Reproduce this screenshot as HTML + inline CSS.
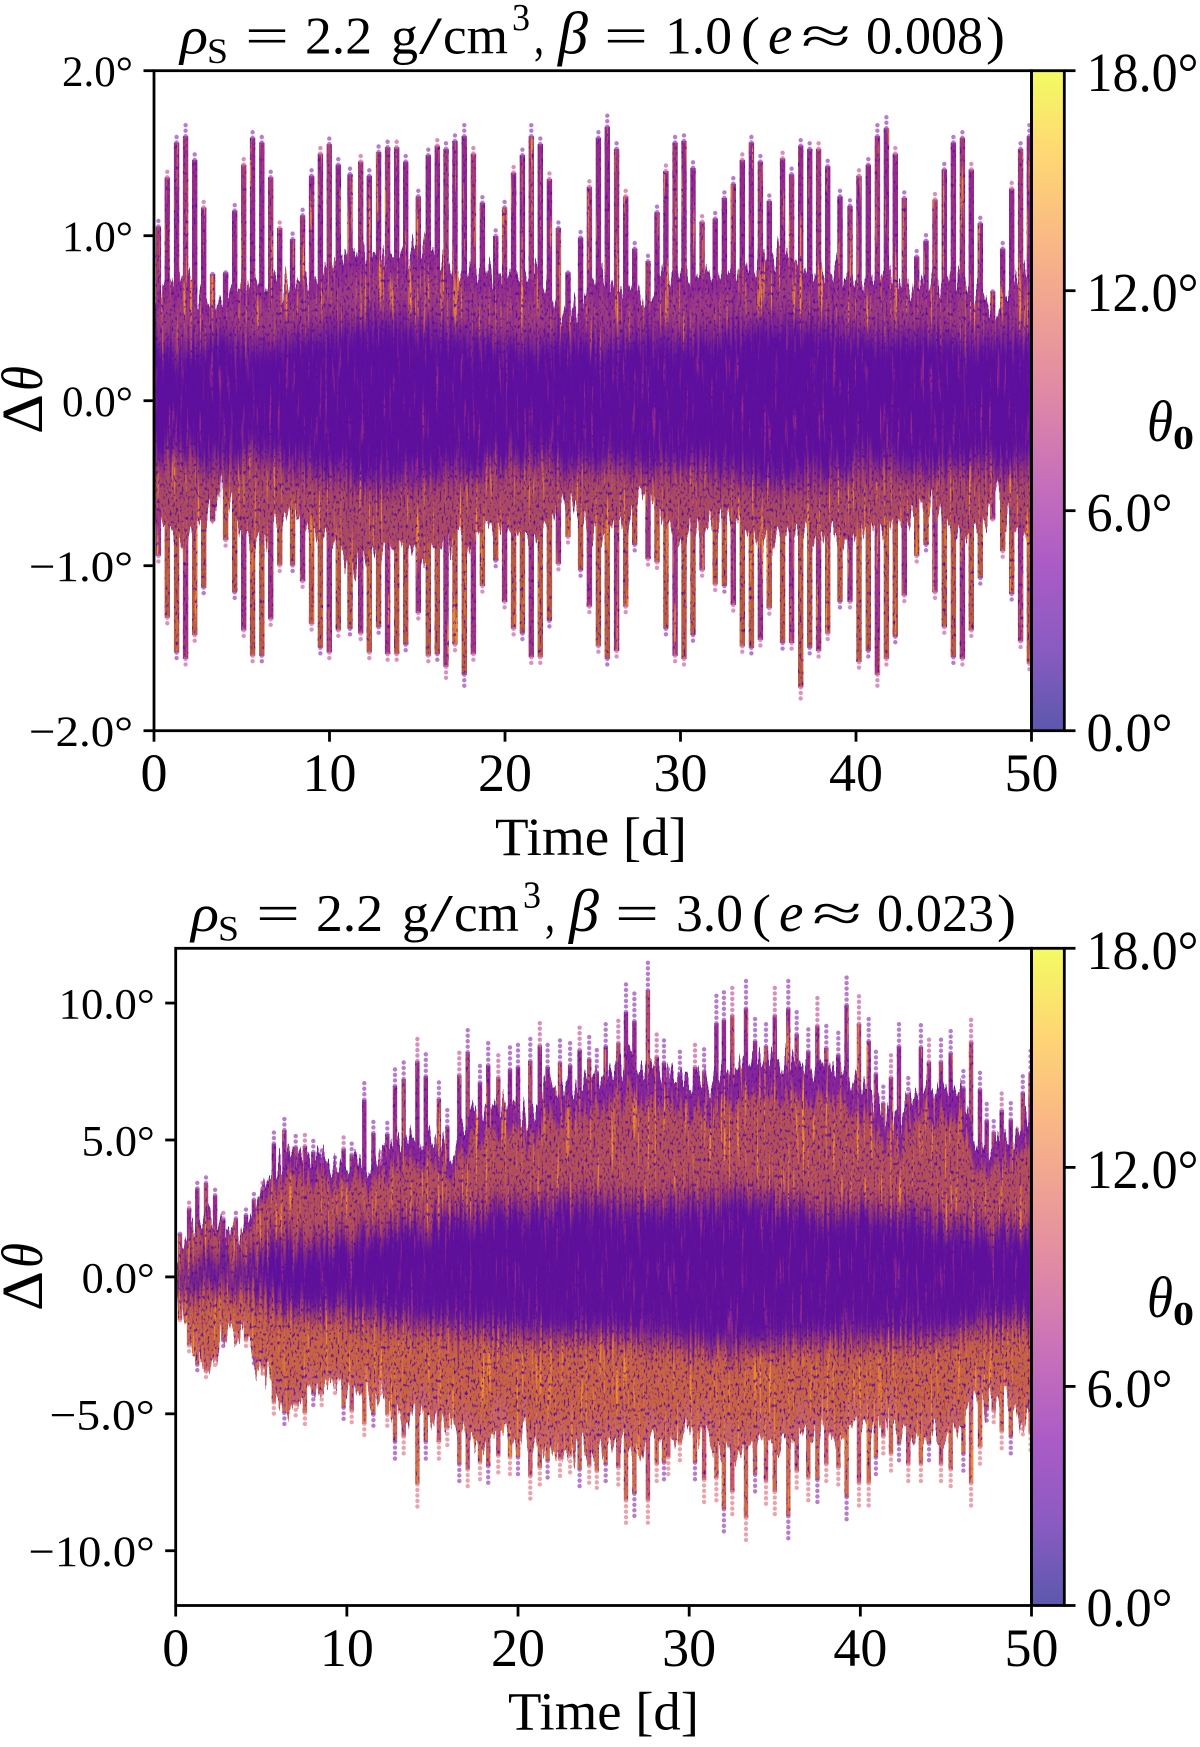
<!DOCTYPE html>
<html lang="en">
<head>
<meta charset="utf-8">
<title>Delta theta versus time scatter panels</title>
<style>
html,body{margin:0;padding:0;background:#fff;}
svg{display:block;}
text{font-family:"Liberation Serif","DejaVu Serif",serif;fill:#000;}
.it{font-style:italic;}
</style>
</head>
<body>
<svg id="figure" xmlns="http://www.w3.org/2000/svg" width="1200" height="1747" viewBox="0 0 1200 1747">
<defs>
<linearGradient id="plasmaAlpha" x1="0" y1="1" x2="0" y2="0">
<stop offset="0" stop-color="#5c58ad"/>
<stop offset=".125" stop-color="#8a5bc2"/>
<stop offset=".25" stop-color="#ab5bc6"/>
<stop offset=".375" stop-color="#c66fbb"/>
<stop offset=".5" stop-color="#de87a7"/>
<stop offset=".625" stop-color="#ee9f95"/>
<stop offset=".75" stop-color="#faba83"/>
<stop offset=".875" stop-color="#fed873"/>
<stop offset="1" stop-color="#f3fb62"/>
</linearGradient>
<filter id="soft6" x="-5%" y="-40%" width="110%" height="180%"><feGaussianBlur stdDeviation="1 11"/></filter>
<filter id="soft3" x="-5%" y="-30%" width="110%" height="160%"><feGaussianBlur stdDeviation="1 4"/></filter>
<filter id="roughBody" filterUnits="userSpaceOnUse" x="140" y="60" width="900" height="1560" color-interpolation-filters="sRGB">
<feTurbulence type="fractalNoise" baseFrequency="0.26 0.004" numOctaves="2" seed="7" result="n"/>
<feColorMatrix in="n" type="matrix" values="1 0 0 0 0  0 1 0 0 0  0 0 0 0 .5  0 0 0 0 1" result="d"/>
<feDisplacementMap in="SourceGraphic" in2="d" scale="70" xChannelSelector="B" yChannelSelector="G"/>
</filter>
<filter id="roughCore" filterUnits="userSpaceOnUse" x="140" y="60" width="900" height="1560" color-interpolation-filters="sRGB">
<feTurbulence type="fractalNoise" baseFrequency="0.4 0.006" numOctaves="2" seed="11" result="n"/>
<feColorMatrix in="n" type="matrix" values="1 0 0 0 0  0 1 0 0 0  0 0 0 0 .5  0 0 0 0 1" result="d"/>
<feDisplacementMap in="SourceGraphic" in2="d" scale="70" xChannelSelector="B" yChannelSelector="G"/>
</filter>
<filter id="streaks" filterUnits="userSpaceOnUse" x="140" y="60" width="900" height="1560" color-interpolation-filters="sRGB">
<feTurbulence type="fractalNoise" baseFrequency="0.42 0.012" numOctaves="2" seed="9" result="n"/>
<feColorMatrix in="n" type="matrix" values="0 0 0 0 .96  0 0 0 0 .56  0 0 0 0 .16  6 0 0 0 -3.6" result="o"/>
<feComposite in="o" in2="SourceAlpha" operator="in" result="om"/>
<feMerge><feMergeNode in="SourceGraphic"/><feMergeNode in="om"/></feMerge>
</filter>
<filter id="coreStreaks" filterUnits="userSpaceOnUse" x="140" y="60" width="900" height="1560" color-interpolation-filters="sRGB">
<feTurbulence type="fractalNoise" baseFrequency="0.36 0.02" numOctaves="2" seed="21" result="n"/>
<feColorMatrix in="n" type="matrix" values="0 0 0 0 .62  0 0 0 0 .18  0 0 0 0 .55  5 0 0 0 -3.0" result="o"/>
<feComposite in="o" in2="SourceAlpha" operator="in" result="om"/>
<feMerge><feMergeNode in="SourceGraphic"/><feMergeNode in="om"/></feMerge>
</filter>
<filter id="grain" filterUnits="userSpaceOnUse" x="140" y="60" width="900" height="1560" color-interpolation-filters="sRGB">
<feTurbulence type="fractalNoise" baseFrequency="0.5 0.24" numOctaves="2" seed="4" result="n"/>
<feColorMatrix in="n" type="matrix" values="0 0 0 0 .36  0 0 0 0 .05  0 0 0 0 .62  5 0 0 0 -2.75" result="p"/>
<feComposite in="p" in2="SourceAlpha" operator="in" result="pm"/>
<feMerge><feMergeNode in="SourceGraphic"/><feMergeNode in="pm"/></feMerge>
</filter>
</defs>

<g font-size="53">
<text class="it" x="180" y="53.5" textLength="28" lengthAdjust="spacingAndGlyphs">ρ</text>
<text x="207" y="63" font-size="36" textLength="21" lengthAdjust="spacingAndGlyphs">S</text>
<text x="245" y="53.5" textLength="44" lengthAdjust="spacingAndGlyphs">=</text>
<text x="305" y="53.5" textLength="67" lengthAdjust="spacingAndGlyphs">2.2</text>
<text x="391" y="53.5" textLength="27" lengthAdjust="spacingAndGlyphs">g</text>
<text x="419" y="53.5" textLength="23" lengthAdjust="spacingAndGlyphs">/</text>
<text x="443" y="53.5" textLength="65" lengthAdjust="spacingAndGlyphs">cm</text>
<text x="512" y="30" font-size="38" textLength="18" lengthAdjust="spacingAndGlyphs">3</text>
<text x="534" y="53.5" textLength="10" lengthAdjust="spacingAndGlyphs">,</text>
<text class="it" x="558" y="53.5" font-size="60">β</text>
<text x="604" y="53.5" textLength="44" lengthAdjust="spacingAndGlyphs">=</text>
<text x="665" y="53.5" textLength="67" lengthAdjust="spacingAndGlyphs">1.0</text>
<text x="741" y="53.5" textLength="19" lengthAdjust="spacingAndGlyphs">(</text>
<text class="it" x="768" y="53.5" font-size="55">e</text>
<text x="801" y="53.5" textLength="50" lengthAdjust="spacingAndGlyphs">≈</text>
<text x="866" y="53.5" textLength="117" lengthAdjust="spacingAndGlyphs">0.008</text>
<text x="986" y="53.5" textLength="19" lengthAdjust="spacingAndGlyphs">)</text>
</g>

<g font-size="53" transform="translate(11,877.6)">
<text class="it" x="180" y="53.5" textLength="28" lengthAdjust="spacingAndGlyphs">ρ</text>
<text x="207" y="63" font-size="36" textLength="21" lengthAdjust="spacingAndGlyphs">S</text>
<text x="245" y="53.5" textLength="44" lengthAdjust="spacingAndGlyphs">=</text>
<text x="305" y="53.5" textLength="67" lengthAdjust="spacingAndGlyphs">2.2</text>
<text x="391" y="53.5" textLength="27" lengthAdjust="spacingAndGlyphs">g</text>
<text x="419" y="53.5" textLength="23" lengthAdjust="spacingAndGlyphs">/</text>
<text x="443" y="53.5" textLength="65" lengthAdjust="spacingAndGlyphs">cm</text>
<text x="512" y="30" font-size="38" textLength="18" lengthAdjust="spacingAndGlyphs">3</text>
<text x="534" y="53.5" textLength="10" lengthAdjust="spacingAndGlyphs">,</text>
<text class="it" x="558" y="53.5" font-size="60">β</text>
<text x="604" y="53.5" textLength="44" lengthAdjust="spacingAndGlyphs">=</text>
<text x="665" y="53.5" textLength="67" lengthAdjust="spacingAndGlyphs">3.0</text>
<text x="741" y="53.5" textLength="19" lengthAdjust="spacingAndGlyphs">(</text>
<text class="it" x="768" y="53.5" font-size="55">e</text>
<text x="801" y="53.5" textLength="50" lengthAdjust="spacingAndGlyphs">≈</text>
<text x="866" y="53.5" textLength="117" lengthAdjust="spacingAndGlyphs">0.023</text>
<text x="986" y="53.5" textLength="19" lengthAdjust="spacingAndGlyphs">)</text>
</g>

<g transform="translate(42,434) rotate(-90)" font-size="58">
<text x="0" y="0" textLength="40" lengthAdjust="spacingAndGlyphs">Δ</text>
<text class="it" x="43" y="0" textLength="25" lengthAdjust="spacingAndGlyphs">θ</text>
</g>
<g transform="translate(42,1311) rotate(-90)" font-size="58">
<text x="0" y="0" textLength="40" lengthAdjust="spacingAndGlyphs">Δ</text>
<text class="it" x="43" y="0" textLength="25" lengthAdjust="spacingAndGlyphs">θ</text>
</g>

<text x="495" y="855" font-size="54" textLength="192" lengthAdjust="spacingAndGlyphs">Time [d]</text>
<text x="508" y="1729.5" font-size="54" textLength="191" lengthAdjust="spacingAndGlyphs">Time [d]</text>

<g>
<text class="it" x="1147" y="441" font-size="58" textLength="26" lengthAdjust="spacingAndGlyphs">θ</text>
<text x="1173" y="449" font-size="34" font-weight="bold" textLength="21" lengthAdjust="spacingAndGlyphs">0</text>
</g>
<g transform="translate(0,876)">
<text class="it" x="1147" y="441" font-size="58" textLength="26" lengthAdjust="spacingAndGlyphs">θ</text>
<text x="1173" y="449" font-size="34" font-weight="bold" textLength="21" lengthAdjust="spacingAndGlyphs">0</text>
</g>
</svg>

<script>
// ---------- Shared axis data ----------
const xTickValues = [0, 10, 20, 30, 40, 50];
const bodyTimes = [0,1,2,3,4,5,6,7,8,9,10,11,12,13,14,15,16,17,18,19,20,21,22,23,24,25,26,27,28,29,30,31,32,33,34,35,36,37,38,39,40,41,42,43,44,45,46,47,48,49,50];
const colorbarTickValues = [0, 6, 12, 18];
const colorbarTickLabels = ['0.0°', '6.0°', '12.0°', '18.0°'];

// ---------- Top panel data (degrees, time in days) ----------
const topYTickValues = [-2, -1, 0, 1, 2];
const topYTickLabels = ['−2.0°', '−1.0°', '0.0°', '1.0°', '2.0°'];
const topSpikeTimes = [0.25,0.76,1.29,1.80,2.32,2.83,3.34,4.08,4.60,5.11,5.62,6.14,6.65,7.16,7.90,8.47,8.98,9.48,9.99,10.50,11.17,11.78,12.27,12.80,13.31,13.83,14.34,15.06,15.63,16.14,16.64,17.15,17.68,18.20,18.71,19.47,19.98,20.49,20.99,21.50,22.01,22.53,23.04,23.59,24.31,24.81,25.32,25.83,26.36,26.88,27.39,28.15,28.66,29.17,29.69,30.20,30.71,31.23,31.98,32.50,33.01,33.52,34.04,34.55,35.06,35.82,36.33,36.85,37.36,37.87,38.39,39.09,39.66,40.17,40.70,41.22,41.73,42.24,42.75,43.46,43.99,44.50,45.03,45.55,46.06,46.57,47.08,47.79,48.36,48.87,49.38,49.88];
const topSpikeUpper = [1.10,1.41,1.63,1.67,1.52,1.22,.80,.81,1.20,1.49,1.66,1.63,1.41,1.09,1.02,1.17,1.42,1.56,1.62,1.49,1.43,1.51,1.42,1.57,1.60,1.60,1.51,1.29,1.55,1.61,1.59,1.64,1.67,1.56,1.25,1.04,1.22,1.44,1.55,1.67,1.62,1.40,1.09,.81,1.03,1.35,1.66,1.73,1.59,1.29,.96,.88,1.19,1.45,1.63,1.64,1.47,1.13,1.15,1.28,1.37,1.52,1.63,1.51,1.26,1.53,1.43,1.61,1.59,1.59,1.48,1.29,1.23,1.42,1.49,1.67,1.72,1.56,1.28,.91,1.01,1.27,1.46,1.63,1.66,1.46,1.12,.69,.96,1.34,1.59,1.67];
const topSpikeLower = [.98,1.37,1.59,1.63,1.48,1.18,.76,.88,1.21,1.45,1.61,1.61,1.38,1.04,1.04,1.14,1.41,1.56,1.59,1.45,1.44,1.47,1.59,1.43,1.60,1.60,1.54,1.34,1.61,1.60,1.68,1.54,1.73,1.60,1.17,1.01,1.27,1.44,1.47,1.62,1.62,1.39,1.03,.86,1.07,1.30,1.55,1.63,1.58,1.30,.91,1.00,1.02,1.44,1.61,1.63,1.48,1.07,1.16,1.17,1.29,1.55,1.56,1.51,1.31,1.53,1.53,1.81,1.56,1.58,1.47,1.27,1.27,1.65,1.58,1.73,1.63,1.49,1.23,.98,.91,1.21,1.43,1.62,1.63,1.45,1.12,.75,.95,1.22,1.52,1.66];
const topBodyUpper = [.62,.73,.76,.59,.60,.71,.71,.71,.69,.73,.83,.92,.89,.89,.87,.94,.89,.80,.80,.78,.73,.73,.76,.52,.57,.73,.73,.66,.62,.76,.78,.73,.78,.78,.83,.89,.89,.80,.80,.78,.71,.76,.73,.66,.71,.73,.73,.66,.52,.71,.76];
const topBodyLower = [.64,.80,.82,.73,.52,.80,.85,.73,.64,.78,.85,.98,.94,.89,.89,.91,.89,.85,.85,.75,.78,.82,.82,.64,.64,.80,.80,.71,.54,.73,.80,.78,.75,.73,.85,.89,.80,.82,.89,.82,.80,.80,.75,.71,.61,.75,.82,.80,.54,.78,.80];
const topCoreUpper = [.32,.30,.30,.34,.38,.32,.30,.32,.36,.36,.40,.42,.44,.46,.44,.42,.40,.38,.38,.36,.34,.32,.32,.36,.38,.34,.32,.34,.38,.36,.34,.36,.38,.40,.42,.44,.44,.42,.42,.40,.38,.36,.36,.38,.38,.36,.34,.34,.36,.36,.34];
const topCoreLower = [.34,.32,.32,.36,.40,.34,.32,.34,.38,.38,.42,.44,.46,.48,.46,.44,.42,.40,.40,.38,.36,.34,.34,.38,.40,.36,.34,.36,.40,.38,.36,.38,.40,.42,.44,.46,.46,.44,.44,.42,.40,.38,.38,.40,.40,.38,.36,.36,.38,.38,.36];

// ---------- Bottom panel data (degrees, time in days) ----------
const bottomYTickValues = [-10, -5, 0, 5, 10];
const bottomYTickLabels = ['−10.0°', '−5.0°', '0.0°', '5.0°', '10.0°'];
const bottomSpikeTimes = [0.25,0.78,1.26,1.77,2.30,2.78,3.52,4.11,4.57,5.08,5.74,6.35,7.01,7.55,8.04,8.53,9.31,9.81,10.28,11.02,11.55,11.98,12.36,12.81,13.32,14.12,14.61,15.38,15.87,16.57,17.06,17.78,18.26,18.85,19.53,20.00,20.72,21.27,21.73,22.45,23.04,23.60,24.16,24.60,25.12,25.86,26.31,26.80,27.59,28.10,28.53,28.78,29.46,30.34,30.87,31.59,32.03,32.52,33.32,33.85,34.49,35.00,35.79,36.28,36.96,37.49,38.01,38.71,39.20,39.92,40.49,40.91,41.34,41.79,42.26,42.80,43.54,44.01,44.71,45.28,46.02,46.47,46.99,47.38,47.79,48.26,48.79,49.49,49.95];
const bottomSpikeUpper = [1.75,2.79,3.59,3.81,3.31,2.37,2.37,2.51,3.14,3.59,5.41,5.96,5.27,5.31,5.07,4.68,4.40,5.21,4.96,7.19,5.84,4.61,5.80,7.75,8.03,8.76,8.14,7.22,6.10,8.20,9.12,7.89,8.59,8.10,8.42,8.52,8.76,9.40,8.52,8.70,8.59,9.22,8.84,8.31,9.36,9.50,10.75,10.38,11.63,8.94,8.70,7.75,8.24,8.52,8.34,10.29,10.43,10.61,10.89,9.57,9.36,10.61,10.89,9.85,9.15,10.20,9.29,9.01,11.03,10.27,9.57,8.24,7.05,8.10,9.36,7.40,9.32,8.73,8.73,9.08,7.68,9.54,7.61,6.35,5.87,6.77,6.38,7.47,8.28];
const bottomSpikeLower = [1.75,2.79,3.56,3.84,3.35,2.58,2.30,2.58,3.28,3.70,5.10,5.52,5.17,5.52,4.75,4.75,4.26,5.31,5.45,5.96,5.59,4.26,5.59,6.70,6.49,8.42,6.70,6.70,6.15,7.61,7.82,7.54,7.68,7.26,7.33,7.33,8.10,7.75,7.47,7.40,7.26,7.82,7.68,7.89,7.61,7.75,9.08,8.80,9.08,7.61,7.54,7.33,6.77,7.54,8.24,8.17,9.43,8.73,9.78,8.03,8.31,8.73,9.71,7.89,8.17,8.24,7.61,7.75,8.94,8.38,8.38,7.33,6.49,7.19,6.77,7.61,7.61,6.77,7.61,7.82,7.19,8.38,6.91,5.38,5.45,6.28,6.49,5.94,6.35];
const bottomBodyUpper = [.35,1.89,2.44,1.61,1.75,3.0,4.40,4.33,4.33,3.98,3.91,4.26,4.33,5.10,5.38,5.24,4.54,5.80,6.22,6.35,5.94,6.08,6.91,7.05,7.19,7.19,7.75,7.89,7.47,7.19,7.12,7.19,7.47,7.75,7.89,8.03,7.75,7.75,7.61,7.61,7.19,6.08,5.80,6.35,6.91,7.05,6.49,4.82,4.68,5.10,6.35];
const bottomBodyLower = [.35,2.44,3.14,2.03,1.89,3.28,4.54,4.68,4.40,3.70,4.12,4.54,4.26,5.24,5.38,5.52,5.10,5.80,6.08,5.80,5.94,5.94,6.22,6.35,6.22,6.35,6.08,6.22,5.94,5.66,5.66,6.08,6.35,6.49,6.22,6.22,6.08,5.94,5.80,5.66,5.38,5.10,5.38,5.94,5.94,5.80,5.52,4.54,4.68,4.82,5.24];
const bottomCoreUpper = [.3,.5,.6,.5,.5,.8,1.3,1.4,1.5,1.5,1.6,1.7,1.8,2.0,2.0,2.1,2.2,2.3,2.4,2.6,2.6,2.7,2.8,2.9,2.9,2.8,2.7,2.7,2.7,2.8,2.9,3.0,3.0,3.0,2.9,2.8,2.7,2.6,2.4,2.4,2.4,2.3,2.3,2.3,2.3,2.2,2.1,1.9,1.9,1.9,1.9];
const bottomCoreLower = [.3,.5,.6,.5,.5,.8,1.2,1.3,1.3,1.3,1.4,1.5,1.6,1.7,1.8,1.8,1.9,2.0,2.0,2.1,2.1,2.2,2.2,2.2,2.2,2.2,2.2,2.3,2.3,2.4,2.5,2.6,2.6,2.6,2.6,2.5,2.4,2.4,2.4,2.3,2.3,2.3,2.3,2.3,2.3,2.2,2.0,1.8,1.8,1.7,1.7];

const NS = 'http://www.w3.org/2000/svg';
const figure = document.getElementById('figure');

function svgEl(tag, attrs, parent) {
  const node = document.createElementNS(NS, tag);
  for (const k in attrs) node.setAttribute(k, attrs[k]);
  parent.appendChild(node);
  return node;
}

function bandPath(times, upper, lower, xOf, yOf, k) {
  let d = '';
  times.forEach(function (t, i) { d += (i ? 'L' : 'M') + xOf(t).toFixed(1) + ' ' + yOf(upper[i] * k).toFixed(1); });
  for (let i = times.length - 1; i >= 0; i--) { d += 'L' + xOf(times[i]).toFixed(1) + ' ' + yOf(-lower[i] * k).toFixed(1); }
  return d + 'Z';
}

function drawPanel(cfg) {
  const xOf = function (t) { return cfg.left + (t / 50) * (cfg.right - cfg.left); };
  const yOf = function (v) { return cfg.bottom - ((v - cfg.yMin) / (cfg.yMax - cfg.yMin)) * (cfg.bottom - cfg.top); };

  const clip = svgEl('clipPath', { id: cfg.prefix + '-clip' }, figure);
  svgEl('rect', { x: cfg.left, y: cfg.top, width: cfg.right - cfg.left, height: cfg.bottom - cfg.top }, clip);

  const marks = svgEl('g', { 'clip-path': 'url(#' + cfg.prefix + '-clip)' }, figure);
  
  
  const grain = svgEl('g', { filter: 'url(#grain)' }, marks);
  const streaked = svgEl('g', { filter: 'url(#streaks)' }, grain);

  cfg.spikeTimes.forEach(function (t, i) {
    const x = xOf(t).toFixed(1);
    const up = svgEl('line', { x1: x, x2: x, y1: yOf(0), y2: yOf(cfg.spikeUpper[i] * cfg.solid), stroke: i % 3 ? cfg.colors.spikeUp : cfg.colors.spikeUpAlt, 'stroke-width': cfg.spikeWidth }, streaked);
    
    
    const down = svgEl('line', { x1: x, x2: x, y1: yOf(0), y2: yOf(-cfg.spikeLower[i] * cfg.solid), stroke: i % 3 ? cfg.colors.spikeDown : cfg.colors.spikeDownAlt, 'stroke-width': cfg.spikeWidth }, streaked);
    
    
  });

  const bodyGroup = svgEl('g', { filter: 'url(#roughBody)' }, streaked);
  const outer = svgEl('path', { d: bandPath(bodyTimes, cfg.bodyUpper, cfg.bodyLower, xOf, yOf, 1), fill: 'url(#' + cfg.prefix + '-edge)' }, bodyGroup);
  
  
  const inner = svgEl('path', { d: bandPath(bodyTimes, cfg.bodyUpper, cfg.bodyLower, xOf, yOf, 0.84), fill: 'url(#' + cfg.prefix + '-main)', filter: 'url(#soft3)' }, bodyGroup);
  
  

  const coreStreak = svgEl('g', { filter: 'url(#coreStreaks)' }, grain);
  const coreGroup = svgEl('g', { filter: 'url(#roughCore)' }, coreStreak);
  const core = svgEl('path', { d: bandPath(bodyTimes, cfg.coreUpper, cfg.coreLower, xOf, yOf, cfg.coreScale), fill: cfg.colors.core, opacity: 0.95, filter: 'url(#soft6)' }, coreGroup);
  
  

  cfg.spikeTimes.forEach(function (t, i) {
    const x = xOf(t).toFixed(1);
    const tipUp = svgEl('line', { x1: x, x2: x, y1: yOf(cfg.spikeUpper[i] * cfg.solid), y2: yOf(cfg.spikeUpper[i]), stroke: i % 4 === 1 ? cfg.colors.tipAlt : cfg.colors.tipUp, 'stroke-width': 4.4, 'stroke-linecap': 'round', 'stroke-dasharray': '0 5.5', opacity: 0.7 }, marks);
    
    
    const tipDown = svgEl('line', { x1: x, x2: x, y1: yOf(-cfg.spikeLower[i] * cfg.solid), y2: yOf(-cfg.spikeLower[i]), stroke: i % 3 === 2 ? cfg.colors.tipUp : cfg.colors.tipDown, 'stroke-width': 4.4, 'stroke-linecap': 'round', 'stroke-dasharray': '0 5.5', opacity: 0.7 }, marks);
    
    
  });

  // colorbar
  const cbar = svgEl('rect', { x: cfg.right, y: cfg.top, width: 32.8, height: cfg.bottom - cfg.top, fill: 'url(#plasmaAlpha)', stroke: '#000', 'stroke-width': 2.8 }, figure);
  
  
  const cbarY = function (v) { return cfg.bottom - (v / 18) * (cfg.bottom - cfg.top); };
  colorbarTickValues.forEach(function (v, i) {
    const tick = svgEl('line', { x1: cfg.right + 32.8, x2: cfg.right + 44, y1: cbarY(v), y2: cbarY(v), stroke: '#000', 'stroke-width': 2.8 }, figure);
    
    
    const label = svgEl('text', { x: cfg.right + 55, y: cbarY(v) + 20.5, 'font-size': 55, textLength: colorbarTickLabels[i].length > 4 ? 112 : 86, lengthAdjust: 'spacingAndGlyphs' }, figure);
    label.textContent = colorbarTickLabels[i];
    
    
  });

  // spines
  const spine = svgEl('rect', { x: cfg.left, y: cfg.top, width: cfg.right - cfg.left, height: cfg.bottom - cfg.top, fill: 'none', stroke: '#000', 'stroke-width': 2.8 }, figure);
  
  

  // x axis
  xTickValues.forEach(function (v) {
    const tick = svgEl('line', { x1: xOf(v), x2: xOf(v), y1: cfg.bottom, y2: cfg.bottom + 11, stroke: '#000', 'stroke-width': 2.8 }, figure);
    
    
    const label = svgEl('text', { x: xOf(v), y: cfg.bottom + 60.5, 'font-size': 54, 'text-anchor': 'middle' }, figure);
    label.textContent = String(v);
    
    
  });

  // y axis
  cfg.yTickValues.forEach(function (v, i) {
    const tick = svgEl('line', { x1: cfg.left - 10.5, x2: cfg.left, y1: yOf(v), y2: yOf(v), stroke: '#000', 'stroke-width': 2.8 }, figure);
    
    
    const width = cfg.yLabelWidths[i];
    const label = svgEl('text', { x: cfg.left - 21 - width, y: yOf(v) + 15.5, 'font-size': 43, textLength: width, lengthAdjust: 'spacingAndGlyphs' }, figure);
    label.textContent = cfg.yTickLabels[i];
    
    
  });
}

function addGradient(id, x0, y0, y1, stops) {
  const defs = figure.querySelector('defs');
  const g = svgEl('linearGradient', { id: id, gradientUnits: 'userSpaceOnUse', x1: x0, x2: x0, y1: y0, y2: y1 }, defs);
  stops.forEach(function (s) { svgEl('stop', { offset: s[0], 'stop-color': s[1] }, g); });
}

addGradient('top-edge', 0, 71, 731, [[0, '#8f2a90'], [.5, '#8f2a90'], [.5, '#ad4a62'], [1, '#ad4a62']]);
addGradient('top-main', 0, 71, 731, [[0, '#9c3a80'], [.5, '#9c3a80'], [.5, '#aa4a62'], [1, '#aa4a62']]);
addGradient('bottom-edge', 0, 948, 1606, [[0, '#86259a'], [.5, '#86259a'], [.5, '#c86460'], [1, '#c86460']]);
addGradient('bottom-main', 0, 948, 1606, [[0, '#b44f5a'], [.5, '#b44f5a'], [.5, '#c86244'], [1, '#c86244']]);

drawPanel({
  prefix: 'top',
  left: 154, right: 1031.5, top: 70.7, bottom: 730.7,
  yMin: -2, yMax: 2,
  yTickValues: topYTickValues,
  yTickLabels: topYTickLabels,
  yLabelWidths: [104, 104, 71, 71, 71],
  spikeTimes: topSpikeTimes,
  spikeUpper: topSpikeUpper,
  spikeLower: topSpikeLower,
  bodyUpper: topBodyUpper,
  bodyLower: topBodyLower,
  coreUpper: topCoreUpper,
  coreLower: topCoreLower,
  coreScale: 1.1,
  spikeWidth: 5.4,
  solid: 0.96,
  colors: { spikeUp: '#962a8c', spikeUpAlt: '#a53a78', spikeDown: '#bb5a42', spikeDownAlt: '#a03582', core: '#5a0da0', tipUp: '#9a45b8', tipAlt: '#d0609a', tipDown: '#c868a8' }
});

drawPanel({
  prefix: 'bottom',
  left: 175.7, right: 1031.5, top: 948.3, bottom: 1605.5,
  yMin: -12, yMax: 12,
  yTickValues: bottomYTickValues,
  yTickLabels: bottomYTickLabels,
  yLabelWidths: [126, 105, 73, 73, 96],
  spikeTimes: bottomSpikeTimes,
  spikeUpper: bottomSpikeUpper,
  spikeLower: bottomSpikeLower,
  bodyUpper: bottomBodyUpper,
  bodyLower: bottomBodyLower,
  coreUpper: bottomCoreUpper,
  coreLower: bottomCoreLower,
  coreScale: 1.0,
  spikeWidth: 4.4,
  solid: 0.9,
  colors: { spikeUp: '#982c8e', spikeUpAlt: '#b04a70', spikeDown: '#cf6a50', spikeDownAlt: '#c85a68', core: '#5a0da0', tipUp: '#9a45b8', tipAlt: '#c860a0', tipDown: '#e0808c' }
});
</script>
</body>
</html>
